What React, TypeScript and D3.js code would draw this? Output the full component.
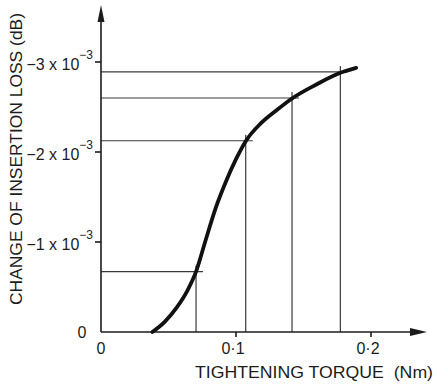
import * as d3 from "d3";

// curve: torque (Nm) vs change of insertion loss (x1e-3 dB, shown negative)
const torque = [0.038, 0.047, 0.056, 0.064, 0.0704, 0.0775, 0.085, 0.0925, 0.1, 0.1072, 0.1185, 0.1305, 0.1415, 0.1595, 0.1773, 0.189];
const loss = [0, 0.11, 0.27, 0.46, 0.67, 1.02, 1.38, 1.67, 1.92, 2.12, 2.32, 2.47, 2.595, 2.75, 2.88, 2.935];

// marked measurement points
const markTorque = [0.0704, 0.1072, 0.1415, 0.1773];
const markLoss = [0.67, 2.125, 2.6, 2.89];

const yTicks = [1, 2, 3];
const yTickLabels = ["−1 x 10", "−2 x 10", "−3 x 10"];
const xTicks = [0.1, 0.2];
const xTickLabels = ["0·1", "0·2"];

const W = 436;
const H = 384;
const font = "'Liberation Sans', 'DejaVu Sans', sans-serif";

const App = () => {
    const x = d3.scaleLinear().domain([0, 0.1]).range([101, 236]);
    const y = d3.scaleLinear().domain([0, 3]).range([332, 62]);

    const line = d3
        .line()
        .x((d) => x(d[0]))
        .y((d) => y(d[1]))
        .curve(d3.curveMonotoneX);
    const pts = torque.map((t, i) => [t, loss[i]]);

    const x0 = x(0);
    const y0 = y(0);
    const ink = "#1c1c1c";

    return (
        <svg
            width={W}
            height={H}
            style={{ position: "absolute", left: 0, top: 0, background: "#fff" }}
        >
            {/* drop lines from marked points */}
            <g stroke="#3a3a3a" strokeWidth={1.2}>
                {markTorque.map((t, i) => (
                    <g key={`m-${i}`}>
                        <line x1={x0} x2={x(t) + 7} y1={y(markLoss[i])} y2={y(markLoss[i])} />
                        <line x1={x(t)} x2={x(t)} y1={y(markLoss[i]) - 6} y2={y0} />
                    </g>
                ))}
            </g>

            {/* axes */}
            <g stroke={ink} strokeWidth={1.6} fill="none">
                <line x1={x0} x2={x0} y1={y0} y2={14} />
                <line x1={x0} x2={418} y1={y0} y2={y0} />
                {yTicks.map((v) => (
                    <line key={`yt-${v}`} x1={x0 - 6} x2={x0} y1={y(v)} y2={y(v)} />
                ))}
                {xTicks.map((v) => (
                    <line key={`xt-${v}`} x1={x(v)} x2={x(v)} y1={y0} y2={y0 + 5} />
                ))}
            </g>
            <path d={`M${x0},5 L${x0 - 3.5},22 L${x0 + 3.5},22 Z`} fill={ink} />
            <path d={`M427,${y0} L410,${y0 - 4} L410,${y0 + 4} Z`} fill={ink} />

            {/* curve */}
            <path d={line(pts)} fill="none" stroke="#111" strokeWidth={3.8} strokeLinecap="round" />

            {/* tick labels */}
            <g fontFamily={font} fill={ink} fontSize={16}>
                {yTicks.map((v, i) => (
                    <text key={`yl-${v}`} x={93} y={y(v) + 8} textAnchor="end">
                        {yTickLabels[i]}
                        <tspan fontSize={12} dy={-11}>−3</tspan>
                    </text>
                ))}
                <text x={82} y={y0 + 6} textAnchor="middle">0</text>
                <text x={x0} y={y0 + 22} textAnchor="middle">0</text>
                {xTicks.map((v, i) => (
                    <text key={`xl-${v}`} x={x(v) - 3} y={y0 + 22} textAnchor="middle">
                        {xTickLabels[i]}
                    </text>
                ))}
            </g>

            {/* axis titles */}
            <g fontFamily={font} fill={ink} fontSize={16}>
                <text
                    x={195}
                    y={378}
                    textLength={238}
                    lengthAdjust="spacingAndGlyphs"
                    style={{ whiteSpace: "pre" }}
                >
                    TIGHTENING TORQUE  (Nm)
                </text>
                <text
                    transform="translate(22,305) rotate(-90)"
                    x={0}
                    y={0}
                    textLength={292}
                    lengthAdjust="spacingAndGlyphs"
                >
                    CHANGE OF INSERTION LOSS (dB)
                </text>
            </g>
        </svg>
    );
};

export default App;
